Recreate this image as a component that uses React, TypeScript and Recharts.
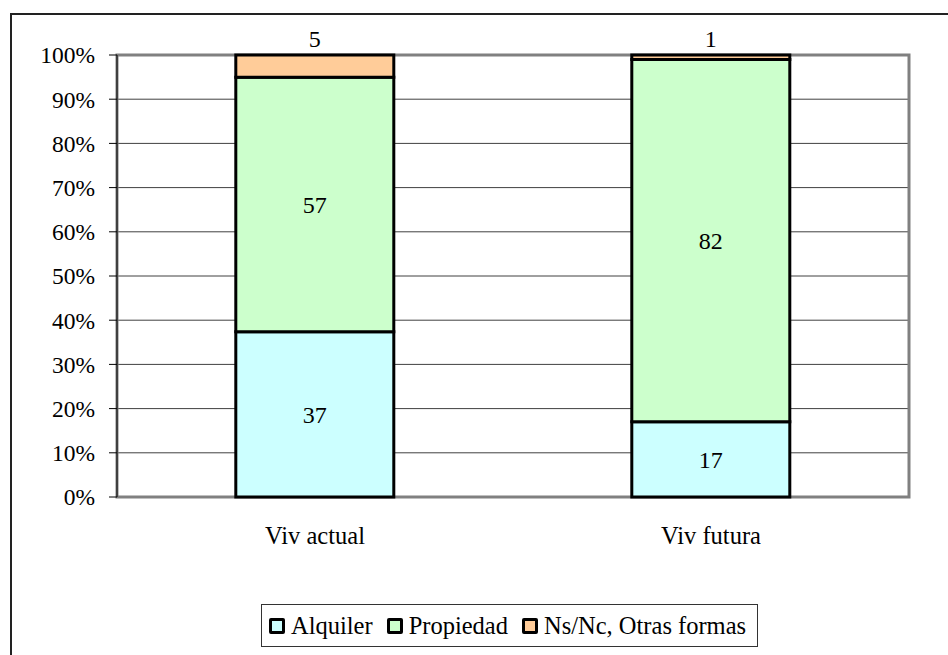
import React from 'react';
import { BarChart, Bar, XAxis, YAxis, CartesianGrid, ReferenceArea, LabelList } from 'recharts';

const categories = ['Viv actual', 'Viv futura'];
const alquiler = [37, 17];
const propiedad = [57, 82];
const otras = [5, 1];
const yTicks = [0, 0.1, 0.2, 0.3, 0.4, 0.5, 0.6, 0.7, 0.8, 0.9, 1];
const edgeTicks = [0, 1, 2];

const series = [
  { key: 'alquiler', name: 'Alquiler', color: '#CCFFFF', pos: 'center' },
  { key: 'propiedad', name: 'Propiedad', color: '#CCFFCC', pos: 'center' },
  { key: 'otras', name: 'Ns/Nc, Otras formas', color: '#FFCC99', pos: 'top' },
];

const data = categories.map((name, i) => ({
  name,
  alquiler: alquiler[i],
  propiedad: propiedad[i],
  otras: otras[i],
}));

const FONT = '"Liberation Serif", "Times New Roman", serif';

export default function App() {
  return (
    <div style={{ position: 'absolute', left: 0, top: 0, width: 948, height: 655, overflow: 'hidden', background: '#fff' }}>
      <div
        style={{
          position: 'absolute',
          left: 10,
          top: 13,
          width: 1000,
          height: 700,
          border: '2px solid #222',
        }}
      />
      <div style={{ position: 'absolute', left: 0, top: 0 }}>
        <BarChart
          width={948}
          height={655}
          data={data}
          stackOffset="expand"
          barCategoryGap="30%"
          margin={{ top: 55, right: 39, bottom: 128, left: 27 }}
          style={{ fontFamily: FONT }}
        >
          <CartesianGrid horizontal vertical={false} stroke="#404040" strokeWidth={1} xAxisId="cat" />
          <XAxis
            xAxisId="edges"
            type="number"
            domain={[0, 2]}
            ticks={edgeTicks}
            height={0}
            tick={false}
            tickSize={8}
            tickLine={{ stroke: '#333', strokeWidth: 1.5 }}
            axisLine={{ stroke: '#404040', strokeWidth: 2 }}
          />
          <XAxis
            xAxisId="cat"
            dataKey="name"
            height={30}
            axisLine={false}
            tickLine={false}
            tickSize={0}
            tickMargin={30}
            tick={{ fill: '#000', fontSize: 24.5, fontFamily: FONT }}
          />
          <YAxis
            width={90}
            domain={[0, 1]}
            ticks={yTicks}
            interval={0}
            tickFormatter={(v: number) => `${Math.round(v * 100)}%`}
            tickSize={8}
            tickMargin={14}
            tickLine={{ stroke: '#000' }}
            axisLine={{ stroke: '#000' }}
            tick={{ fill: '#000', fontSize: 23.5, fontFamily: FONT }}
          />
          <ReferenceArea xAxisId="cat" y1={0} y2={1} fill="none" stroke="#808080" strokeWidth={3} />
          {series.map((s) => (
            <Bar
              key={s.key}
              xAxisId="cat"
              dataKey={s.key}
              name={s.name}
              stackId="a"
              fill={s.color}
              stroke="#000"
              strokeWidth={3}
              isAnimationActive={false}
            >
              <LabelList
                dataKey={s.key}
                position={s.pos as any}
                offset={8}
                fill="#000"
                fontSize={24}
                fontFamily={FONT}
              />
            </Bar>
          ))}
        </BarChart>
      </div>
      <div
        style={{
          position: 'absolute',
          left: 261,
          top: 604,
          width: 497,
          height: 43,
          boxSizing: 'border-box',
          border: '1px solid #333',
          display: 'flex',
          alignItems: 'center',
          justifyContent: 'flex-start',
          paddingLeft: 7,
          fontFamily: FONT,
          fontSize: 24.5,
          color: '#000',
          whiteSpace: 'nowrap',
        }}
      >
        {series.map((s, i) => (
          <div key={s.key} style={{ display: 'flex', alignItems: 'center', marginLeft: i === 0 ? 0 : 14 }}>
            <span
              style={{
                display: 'inline-block',
                width: 10,
                height: 10,
                border: '3px solid #000',
                borderRadius: 2,
                background: s.color,
                marginRight: 6,
              }}
            />
            <span>{s.name}</span>
          </div>
        ))}
      </div>
    </div>
  );
}
